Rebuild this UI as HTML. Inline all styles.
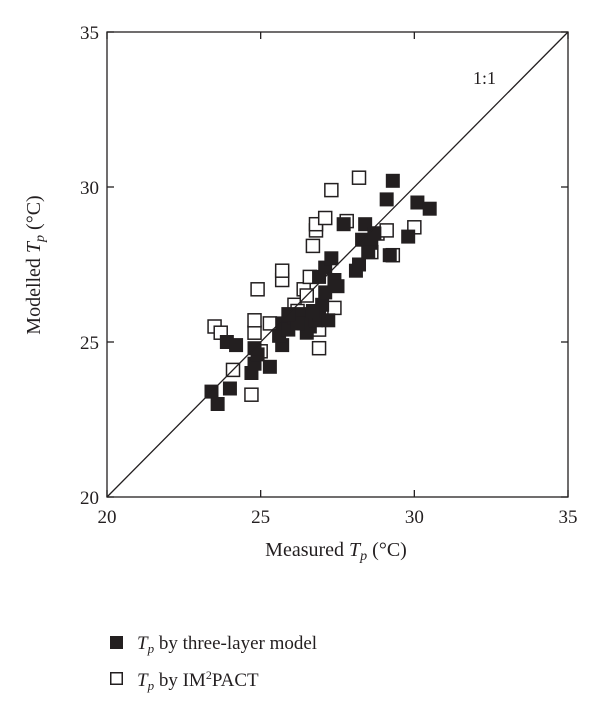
<!DOCTYPE html>
<html><head><meta charset="utf-8"><style>
body{margin:0;background:#fff;}
svg text{font-family:"Liberation Serif",serif;fill:#231f20;}
</style></head><body>
<svg width="600" height="700">
<g id="plot"></g>
</svg>
<script>
const xTicks=[20,25,30,35];
const yTicks=[20,25,30,35];
const threeLayerX=[23.4,23.6,24.0,23.9,24.2,24.7,24.8,24.9,24.8,25.3,25.7,25.6,25.7,25.9,26.1,26.3,26.4,26.5,26.6,26.8,26.9,27.0,27.1,26.9,27.1,27.3,27.4,27.5,27.2,26.7,27.7,28.1,28.2,28.3,28.4,28.6,28.5,29.1,29.3,29.2,29.8,30.1,30.5,28.7,26.2,25.9];
const threeLayerY=[23.4,23.0,23.5,25.0,24.9,24.0,24.3,24.6,24.8,24.2,24.9,25.2,25.6,25.4,25.8,25.9,25.6,25.3,25.5,25.7,25.9,26.2,26.6,27.1,27.4,27.7,27.0,26.8,25.7,26.0,28.8,27.3,27.5,28.3,28.8,28.2,27.9,29.6,30.2,27.8,28.4,29.5,29.3,28.5,25.6,25.9];
const impactX=[23.5,23.7,24.7,24.8,24.8,24.9,25.0,24.1,25.3,25.7,25.7,26.1,26.2,26.4,26.6,26.7,26.8,26.8,26.9,26.9,27.1,27.3,27.4,27.8,28.2,28.6,28.8,29.1,29.3,30.0,26.5];
const impactY=[25.5,25.3,23.3,25.3,25.7,26.7,24.7,24.1,25.6,27.0,27.3,26.2,26.0,26.7,27.1,28.1,28.6,28.8,24.8,25.4,29.0,29.9,26.1,28.9,30.3,27.9,28.5,28.6,27.8,28.7,26.5];
const X0=107,X1=568,Y0=497,Y1=32;
const sx=v=>X0+(v-20)/15*(X1-X0);
const sy=v=>Y0-(v-20)/15*(Y0-Y1);
const NS="http://www.w3.org/2000/svg";
const g=document.getElementById('plot');
function mk(t,a){const e=document.createElementNS(NS,t);for(const k in a)e.setAttribute(k,a[k]);g.appendChild(e);return e;}
// squares
impactX.forEach((v,i)=>{
 const r=mk('rect',{x:sx(v)-6.5,y:sy(impactY[i])-6.5,width:13,height:13,fill:'#fff',stroke:'#231f20','stroke-width':1.5});
 
 
});
threeLayerX.forEach((v,i)=>{
 const r=mk('rect',{x:sx(v)-7,y:sy(threeLayerY[i])-7,width:14,height:14,fill:'#231f20'});
 
 
});
const l=mk('line',{x1:sx(20),y1:sy(20),x2:sx(35),y2:sy(35),stroke:'#231f20','stroke-width':1.3});


const fr=mk('rect',{x:X0,y:Y1,width:X1-X0,height:Y0-Y1,fill:'none',stroke:'#231f20','stroke-width':1.3});


xTicks.forEach(v=>{
 mk('line',{x1:sx(v),y1:Y0,x2:sx(v),y2:Y0-7,stroke:'#231f20','stroke-width':1.3});
 mk('line',{x1:sx(v),y1:Y1,x2:sx(v),y2:Y1+7,stroke:'#231f20','stroke-width':1.3});
 const t=mk('text',{x:sx(v),y:Y0+26,'text-anchor':'middle','font-size':19});
 t.textContent=v;
 
 
});
yTicks.forEach(v=>{
 mk('line',{x1:X0,y1:sy(v),x2:X0+7,y2:sy(v),stroke:'#231f20','stroke-width':1.3});
 mk('line',{x1:X1,y1:sy(v),x2:X1-7,y2:sy(v),stroke:'#231f20','stroke-width':1.3});
 const t=mk('text',{x:X0-8,y:sy(v)+7,'text-anchor':'end','font-size':19});
 t.textContent=v;
 
 
});
</script>
<svg width="600" height="700" style="position:absolute;left:0;top:0">
<text x="473" y="84" font-size="18">1:1</text>
<text x="336" y="556" font-size="20" text-anchor="middle">Measured <tspan font-style="italic">T</tspan><tspan font-style="italic" font-size="14" dy="4">p</tspan><tspan dy="-4"> (°C)</tspan></text>
<text transform="translate(40,265) rotate(-90)" font-size="20" text-anchor="middle">Modelled <tspan font-style="italic">T</tspan><tspan font-style="italic" font-size="14" dy="4">p</tspan><tspan dy="-4"> (°C)</tspan></text>
<g>
<rect x="110" y="636" width="13" height="13" fill="#231f20"/>
<text x="137" y="649" font-size="19"><tspan font-style="italic">T</tspan><tspan font-style="italic" font-size="13" dy="4">p</tspan><tspan dy="-4"> by three-layer model</tspan></text>
<rect x="110.75" y="672.75" width="11.5" height="11.5" fill="#fff" stroke="#231f20" stroke-width="1.5"/>
<text x="137" y="686" font-size="19"><tspan font-style="italic">T</tspan><tspan font-style="italic" font-size="13" dy="4">p</tspan><tspan dy="-4"> by IM</tspan><tspan font-size="12" dy="-7">2</tspan><tspan dy="7">PACT</tspan></text>
</g>
</svg>
<style>body{position:relative;width:600px;height:700px;overflow:hidden}</style>
</body></html>
